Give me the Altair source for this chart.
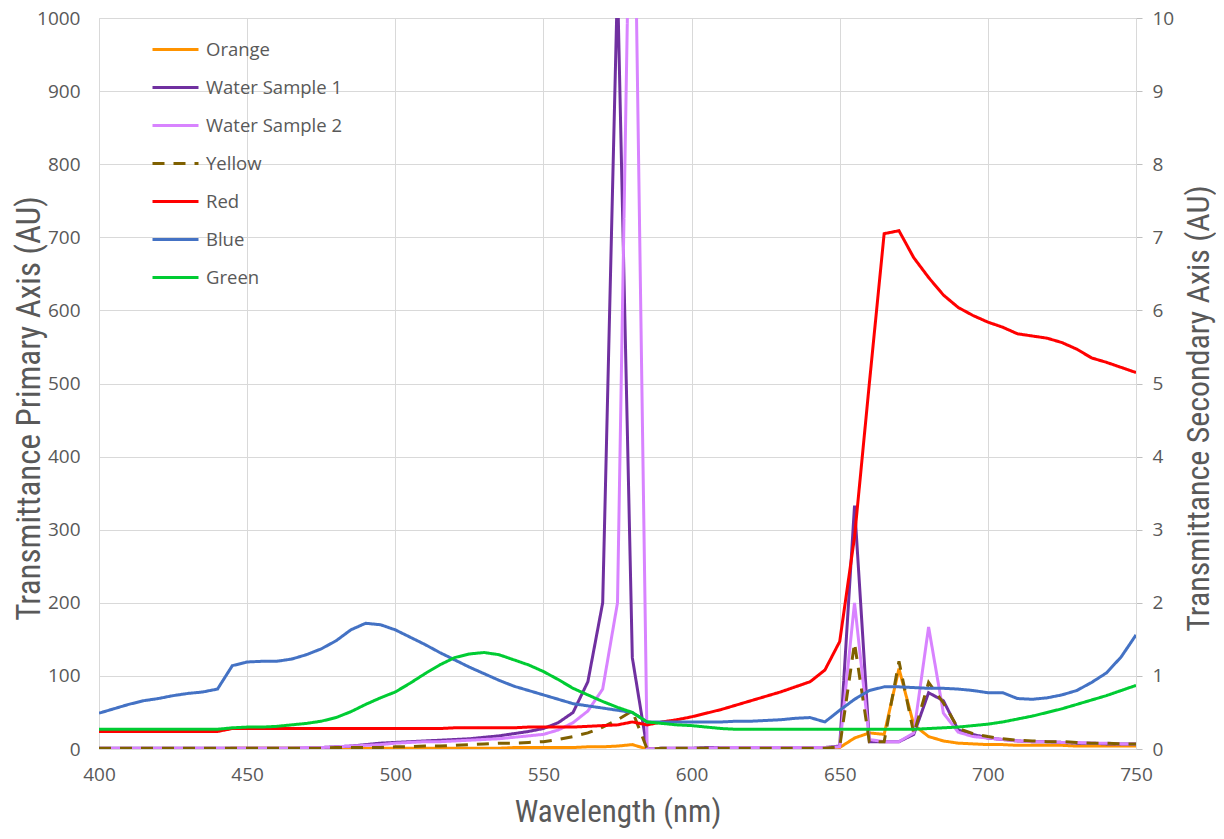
import altair as alt
import pandas as pd

# Sampling grid (nm)
wavelength = list(range(400, 751, 5))

orange = [0, 0, 0, 0, 0, 0, 0, 0, 0,
          1, 1, 1, 1, 1, 1, 1, 1,
          1, 1, 1, 1, 1, 1, 1, 1,
          1, 1, 1, 2, 2, 2, 2, 2,
          3, 3, 4, 6,
          0, 0, 0, 0, 0, 0, 0, 0,
          0, 0, 0, 0, 0, 2,
          15, 22, 20, 110, 33, 17, 11, 8, 7, 6,
          6, 5, 5, 5, 5, 4, 4, 4, 4, 4]

water1 = [1, 1, 1, 1, 1, 1, 1, 1, 1,
          1, 1, 1, 1, 1, 1, 2, 3,
          4, 6, 8, 9, 10, 11, 12, 13,
          14, 16, 18, 21, 24, 28, 36, 50,
          92, 200, 1050, 125,
          0, 1, 1, 1, 2, 2, 2, 2,
          2, 2, 2, 2, 2, 4,
          333, 10, 10, 10, 20, 77, 66, 26, 20, 15,
          13, 11, 10, 10, 9, 8, 8, 7, 7, 7]

water2 = [1, 1, 1, 1, 1, 1, 1, 1, 1,
          1, 1, 1, 1, 1, 2, 2, 3,
          4, 5, 6, 8, 9, 10, 10, 11,
          12, 13, 14, 16, 18, 20, 26, 36,
          52, 82, 200, 1400,
          0, 1, 1, 1, 1, 2, 2, 2,
          2, 2, 2, 2, 2, 3,
          200, 13, 10, 10, 22, 167, 49, 23, 17, 15,
          13, 11, 10, 10, 9, 9, 8, 8, 7, 7]

yellow = [1, 1, 1, 1, 1, 1, 1, 1, 1,
          1, 1, 1, 1, 1, 1, 1, 2,
          2, 2, 2, 3, 3, 4, 4, 5,
          6, 7, 8, 8, 9, 10, 13, 17,
          22, 30, 40, 52,
          0, 1, 1, 1, 1, 1, 1, 1,
          1, 1, 1, 1, 1, 3,
          145, 10, 10, 120, 21, 91, 63, 28, 21, 17,
          14, 12, 11, 10, 10, 9, 8, 8, 7, 7]

red = [24, 24, 24, 24, 24, 24, 24, 24, 24,
       28, 28, 28, 28, 28, 28, 28, 28,
       28, 28, 28, 28, 28, 28, 28, 29,
       29, 29, 29, 29, 30, 30, 30, 30,
       31, 32, 33, 37,
       33, 37, 40, 44, 49, 54, 60, 66,
       72, 78, 85, 92, 108, 147,
       290, 500, 705, 709, 672, 645, 621, 604, 593, 584,
       577, 568, 565, 562, 556, 547, 535, 529, 522, 515]

blue = [49, 55, 61, 66, 69, 73, 76, 78, 82,
        114, 119, 120, 120, 123, 129, 137, 148,
        163, 172, 170, 163, 153, 143, 132, 122,
        112, 103, 94, 86, 80, 74, 68, 62,
        59, 56, 53, 50,
        37, 37, 37, 37, 37, 37, 38, 38,
        39, 40, 42, 43, 37, 53,
        68, 80, 85, 85, 84, 83, 83, 82, 80, 77,
        77, 69, 68, 70, 74, 80, 91, 104, 126, 156]

green = [27, 27, 27, 27, 27, 27, 27, 27, 27,
         29, 30, 30, 31, 33, 35, 38, 43,
         51, 61, 70, 78, 90, 103, 115, 125,
         130, 132, 129, 122, 115, 106, 95, 83,
         74, 65, 57, 50,
         37, 35, 33, 32, 30, 28, 27, 27,
         27, 27, 27, 27, 27, 27,
         27, 27, 27, 27, 27, 28, 29, 30, 32, 34,
         37, 41, 45, 50, 55, 61, 67, 73, 80, 87]

series_names = ["Orange", "Water Sample 1", "Water Sample 2", "Yellow", "Red", "Blue", "Green"]
series_values = [orange, water1, water2, yellow, red, blue, green]
series_colors = ["#FF9300", "#7030A0", "#D883FF", "#7F6000", "#FF0000", "#4472C4", "#00CC33"]
series_dash = [[1, 0], [1, 0], [1, 0], [12, 9], [1, 0], [1, 0], [1, 0]]

x_ticks = [400, 450, 500, 550, 600, 650, 700, 750]
y_ticks = [0, 100, 200, 300, 400, 500, 600, 700, 800, 900, 1000]
y2_ticks = [0, 1, 2, 3, 4, 5, 6, 7, 8, 9, 10]

rows = []
for name, vals in zip(series_names, series_values):
    for w, v in zip(wavelength, vals):
        rows.append({"Wavelength": w, "Value": v, "Series": name})
df = pd.DataFrame(rows)

GRID = "#d9d9d9"
TXT = "#595959"
TICKFONT = "Open Sans"
TITLEFONT = "Liberation Sans Narrow, Roboto Condensed, Lato"

legend = alt.Legend(
    title=None, orient="none", legendX=52, legendY=7,
    symbolType="stroke", symbolSize=2116, symbolStrokeWidth=3,
    labelFont=TICKFONT, labelFontSize=18.5, labelColor=TXT,
    labelOffset=6, rowPadding=4, symbolOffset=0,
)

lines = alt.Chart(df).mark_line(strokeWidth=3, clip=True).encode(
    x=alt.X("Wavelength:Q",
            scale=alt.Scale(domain=[400, 750], nice=False, zero=False),
            axis=alt.Axis(values=x_ticks, title="Wavelength (nm)", grid=True, format="d",
                          gridColor=GRID, domainColor=GRID, ticks=False, labelFlush=False,
                          labelFont=TICKFONT, labelFontSize=19, labelColor=TXT,
                          labelPadding=16, titleFont=TITLEFONT, titleFontSize=31,
                          titleFontWeight="normal", titleColor=TXT,
                          titleY=63, titleBaseline="middle")),
    y=alt.Y("Value:Q",
            scale=alt.Scale(domain=[0, 1000], nice=False),
            axis=alt.Axis(values=y_ticks, title="Transmittance Primary Axis (AU)", format="d",
                          grid=True, gridColor=GRID, domain=False, ticks=False, labelFlush=False,
                          labelFont=TICKFONT, labelFontSize=19, labelColor=TXT,
                          labelPadding=19, titleFont=TITLEFONT, titleFontSize=33,
                          titleFontWeight="normal", titleColor=TXT,
                          titleX=-70, titleY=390, titleBaseline="middle")),
    color=alt.Color("Series:N", scale=alt.Scale(domain=series_names, range=series_colors),
                    legend=legend),
    strokeDash=alt.StrokeDash("Series:N", scale=alt.Scale(domain=series_names, range=series_dash),
                              legend=legend),
)

sec = alt.Chart(pd.DataFrame({"s": [y2_ticks[0], y2_ticks[-1]]})).mark_point(opacity=0).encode(
    y=alt.Y("s:Q", scale=alt.Scale(domain=[0, 10], nice=False),
            axis=alt.Axis(orient="right", values=y2_ticks, format="d",
                          title="Transmittance Secondary Axis (AU)", grid=False, labelFlush=False,
                          domainColor=GRID, tickColor="#bfbfbf", tickSize=6,
                          labelFont=TICKFONT, labelFontSize=19, labelColor=TXT,
                          labelPadding=10, titleFont=TITLEFONT, titleFontSize=32,
                          titleFontWeight="normal", titleColor=TXT,
                          titleAngle=270, titleX=62, titleY=390, titleBaseline="middle"))
)

chart = alt.layer(lines, sec).resolve_scale(y="independent").properties(
    width=1037, height=731,
    autosize=alt.AutoSizeParams(type="none"),
    padding={"left": 91, "top": 10, "right": 80, "bottom": 82},
).configure_view(stroke=None).configure(background="white")

chart.save("out.html", embed_options={"renderer": "svg", "actions": False})
